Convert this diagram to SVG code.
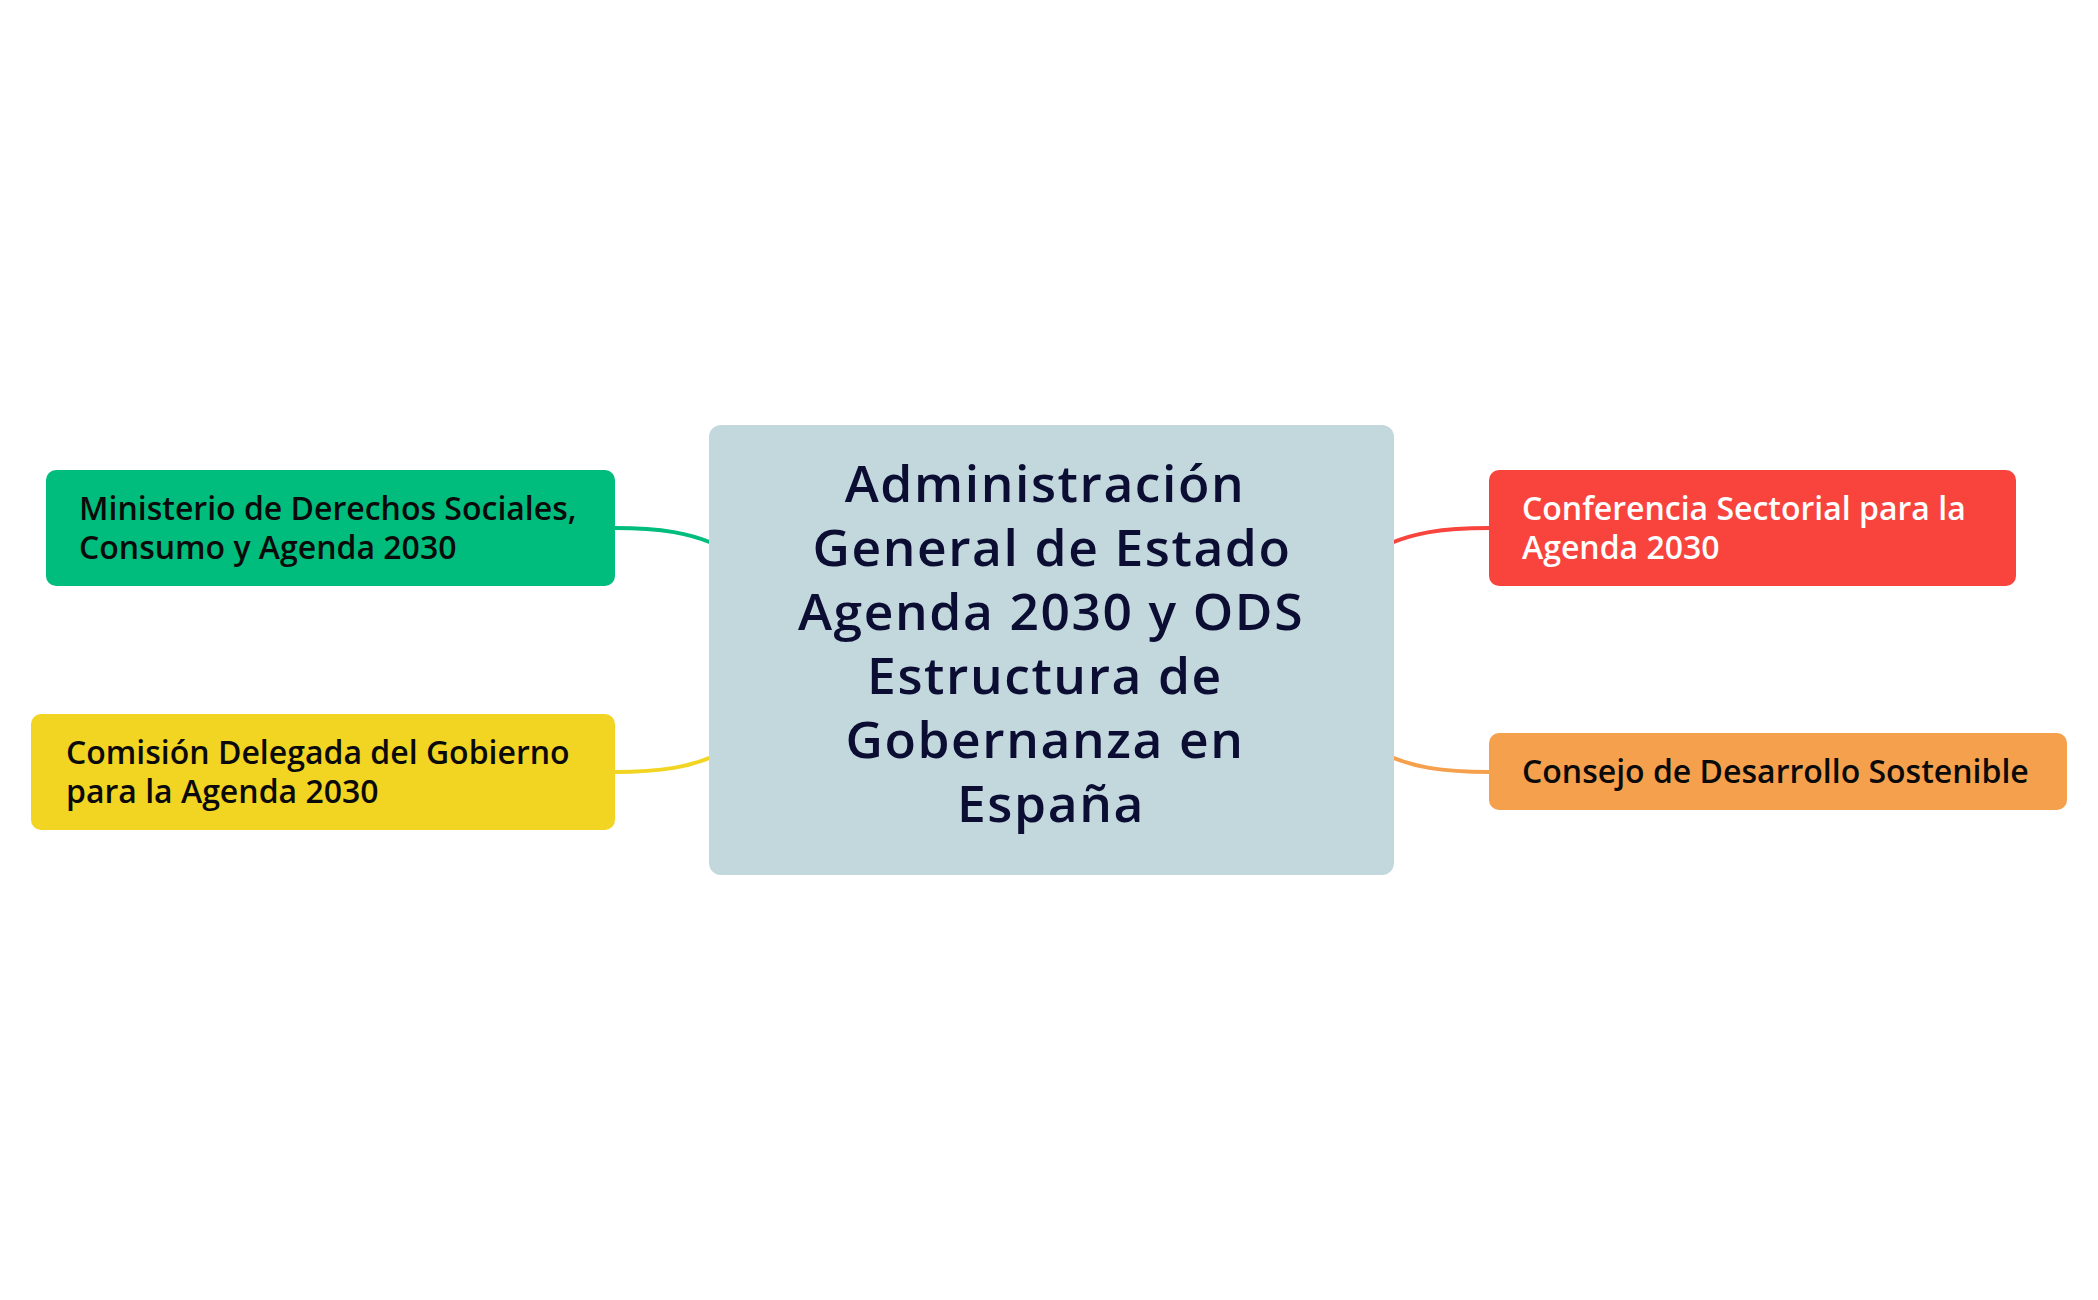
<svg xmlns="http://www.w3.org/2000/svg" width="2098" height="1300" viewBox="0 0 2098 1300">
<style>
.node text{font-family:"Open Sans","Liberation Sans",sans-serif;font-weight:600;font-size:32px;fill:#0a0a0a}
.central text{font-family:"Open Sans","Liberation Sans",sans-serif;font-weight:600;font-size:51.5px;letter-spacing:1.6px;fill:#0b0d33;text-anchor:middle}
.conn path{fill:none;stroke-width:4;stroke-linecap:round}
</style>
<rect width="2098" height="1300" fill="#ffffff"/>
<g id="connectors" class="conn">
<path d="M614,528 C665,528 690,534 712,543" stroke="#00bc7d"/>
<path d="M614,772 C665,772 690,766 712,757" stroke="#f2d422"/>
<path d="M1489,528 C1438,528 1413,534 1391,543" stroke="#f9443e"/>
<path d="M1489,772 C1438,772 1413,766 1391,757" stroke="#f5a04d"/>
</g>
<g id="central" class="central">
<rect x="709" y="425" width="685" height="450" rx="12" fill="#c2d8dd"/>
<text x="1045" y="502">Administración</text>
<text x="1052" y="566">General de Estado</text>
<text x="1051" y="630">Agenda 2030 y ODS</text>
<text x="1045" y="694">Estructura de</text>
<text x="1045" y="758">Gobernanza en</text>
<text x="1051" y="822">España</text>
</g>
<g id="node-ministerio" class="node">
<rect x="46" y="470" width="569" height="116" rx="10" fill="#00bc7d"/>
<text x="79" y="520">Ministerio de Derechos Sociales,</text>
<text x="79" y="559">Consumo y Agenda 2030</text>
</g>
<g id="node-comision" class="node">
<rect x="31" y="714" width="584" height="116" rx="10" fill="#f2d422"/>
<text x="66" y="764">Comisión Delegada del Gobierno</text>
<text x="66" y="803">para la Agenda 2030</text>
</g>
<g id="node-conferencia" class="node">
<rect x="1489" y="470" width="527" height="116" rx="10" fill="#f9443e"/>
<text x="1522" y="520" style="fill:#ffffff">Conferencia Sectorial para la</text>
<text x="1522" y="559" style="fill:#ffffff">Agenda 2030</text>
</g>
<g id="node-consejo" class="node">
<rect x="1489" y="733" width="578" height="77" rx="10" fill="#f5a04d"/>
<text x="1522" y="783">Consejo de Desarrollo Sostenible</text>
</g>
</svg>
